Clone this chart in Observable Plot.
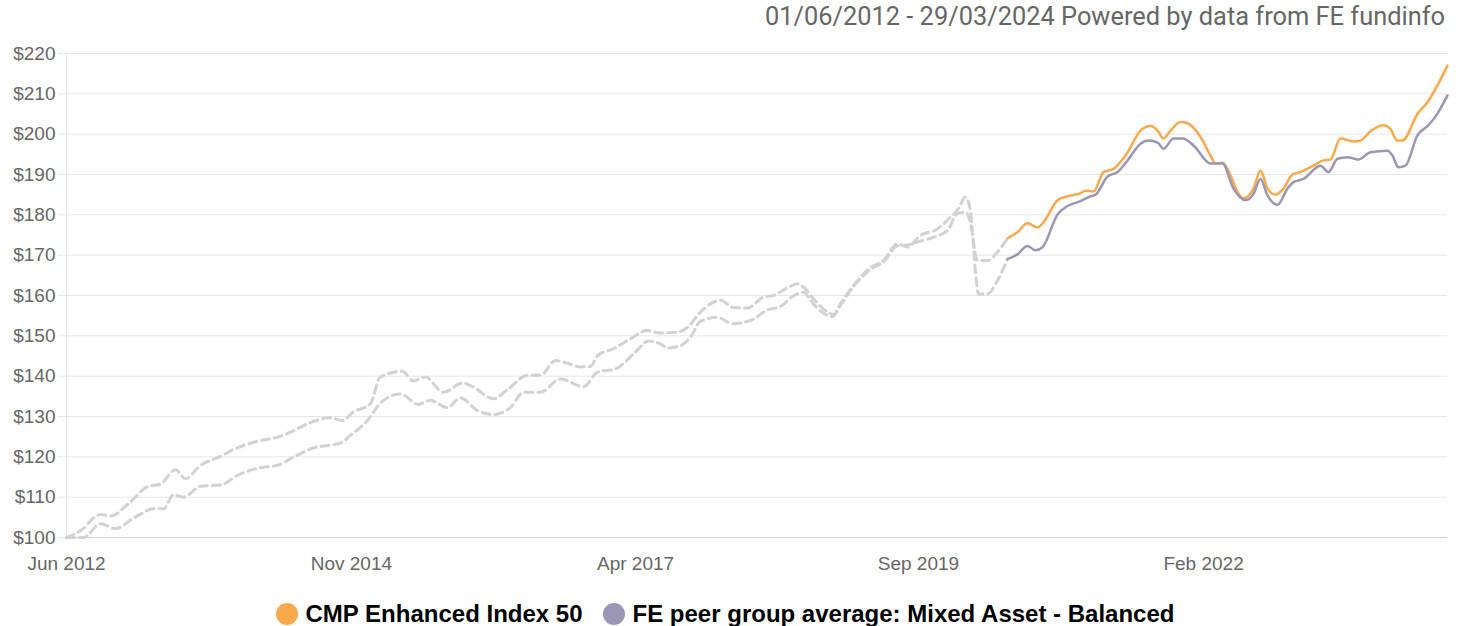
<!DOCTYPE html>
<html><head><meta charset="utf-8">
<script src="https://cdn.jsdelivr.net/npm/d3@7"></script>
<script src="https://cdn.jsdelivr.net/npm/@observablehq/plot@0.6"></script>
<style>
body{margin:0;background:#fff;width:1462px;height:626px;overflow:hidden;font-family:"Liberation Sans",Arial,sans-serif;position:relative}
#title{height:40px;box-sizing:border-box;padding-top:4px;text-align:right;padding-right:17px;font-family:Roboto,sans-serif;font-size:25.4px;line-height:25px;color:#666;white-space:nowrap}
#chart svg{display:block}
#legend{position:absolute;left:0;top:600px;width:1450px;height:28px;display:flex;justify-content:center;align-items:center;font-family:"Liberation Sans",Arial,sans-serif;font-weight:bold;font-size:24px;line-height:1;color:#000;white-space:nowrap}
#legend .item{display:flex;align-items:center;margin:0 10px}
#legend .dot{width:22px;height:22px;border-radius:50%;margin-right:8px}
</style></head><body>
<div id="title"></div>
<div id="chart"></div>
<div id="legend"></div>
<script>
// Series names and colours
const seriesNames = ["CMP Enhanced Index 50", "FE peer group average: Mixed Asset - Balanced"];
const seriesColors = ["#f9a94c", "#9b96b4"];
const periodLabel = "01/06/2012 - 29/03/2024 Powered by data from FE fundinfo";

// Dates as decimal years, values as growth of $100
const fundYears = [2012.416,2012.535,2012.706,2012.792,2012.946,2013.109,2013.220,2013.349,2013.434,2013.563,2013.734,2013.845,2014.017,2014.222,2014.334,2014.479,2014.676,2014.779,2014.873,2015.019,2015.104,2015.293,2015.387,2015.490,2015.644,2015.807,2015.901,2016.072,2016.192,2016.363,2016.475,2016.603,2016.706,2016.817,2016.903,2016.963,2017.100,2017.246,2017.391,2017.503,2017.648,2017.734,2017.845,2018.017,2018.128,2018.248,2018.385,2018.471,2018.591,2018.676,2018.727,2018.813,2018.933,2018.984,2019.044,2019.156,2019.301,2019.413,2019.533,2019.618,2019.730,2019.875,2019.986,2020.055,2020.115,2020.158,2020.183,2020.218,2020.303,2020.389,2020.475,2020.560,2020.646,2020.732,2020.783,2020.903,2020.989,2021.100,2021.143,2021.211,2021.297,2021.383,2021.503,2021.614,2021.700,2021.760,2021.811,2021.871,2021.957,2022.017,2022.128,2022.214,2022.257,2022.316,2022.385,2022.445,2022.496,2022.582,2022.642,2022.702,2022.770,2022.839,2022.916,2022.984,2023.096,2023.181,2023.241,2023.327,2023.438,2023.498,2023.584,2023.695,2023.755,2023.815,2023.858,2023.987,2024.072,2024.158,2024.244];
const fundValues = [100,101.7,105.7,105.3,108.4,112.6,113.3,116.8,114.6,117.9,120.1,121.8,123.6,124.9,126.1,128.2,129.7,129.0,131.1,133.2,139.8,141.2,138.8,139.8,136.0,138.3,137.3,134.4,136.6,140.2,140.2,143.9,143.2,142.3,142.4,145.1,146.8,149.3,151.3,150.7,150.9,152.1,155.9,158.8,157.0,156.9,159.6,160.0,161.9,162.9,162.1,159.2,155.9,155.3,157.9,162.5,166.9,168.7,172.8,172.0,174.9,176.5,179.4,181.5,184.4,181.1,173.6,168.7,168.7,170.7,174.2,175.7,177.9,176.9,178.2,183.6,184.6,185.4,186.0,185.8,190.6,191.4,195.5,200.9,202.0,200.9,198.9,200.9,203.0,202.7,199.3,194.7,192.7,192.9,189.8,185.6,184.1,186.5,191.0,186.5,185.0,186.5,190.0,190.6,192.2,193.5,193.7,198.9,198.2,198.4,200.7,202.2,201.3,198.4,198.4,205.0,207.9,212.1,217.0];

const peerYears = [2012.416,2012.561,2012.706,2012.835,2012.989,2013.177,2013.246,2013.331,2013.417,2013.563,2013.734,2013.880,2014.077,2014.222,2014.359,2014.531,2014.650,2014.762,2014.847,2014.993,2015.104,2015.276,2015.430,2015.533,2015.678,2015.790,2015.935,2016.072,2016.218,2016.329,2016.475,2016.646,2016.843,2016.963,2017.117,2017.289,2017.400,2017.503,2017.563,2017.674,2017.760,2017.845,2017.991,2018.119,2018.274,2018.419,2018.531,2018.659,2018.727,2018.813,2018.899,2018.976,2019.044,2019.156,2019.301,2019.413,2019.533,2019.618,2019.730,2019.815,2019.961,2020.047,2020.115,2020.175,2020.201,2020.227,2020.303,2020.389,2020.475,2020.560,2020.646,2020.715,2020.775,2020.903,2020.989,2021.100,2021.186,2021.229,2021.331,2021.417,2021.503,2021.614,2021.683,2021.760,2021.811,2021.897,2021.974,2022.068,2022.214,2022.316,2022.411,2022.514,2022.582,2022.642,2022.702,2022.788,2022.873,2022.925,2023.010,2023.156,2023.224,2023.302,2023.387,2023.481,2023.584,2023.730,2023.773,2023.824,2023.884,2023.987,2024.081,2024.158,2024.244];
const peerValues = [100,100,103.4,102.2,104.8,107.2,107.1,110.6,110.0,112.7,113.0,115.4,117.3,117.9,119.9,122.2,122.8,123.4,125.3,129.0,133.3,135.6,133.0,134.0,132.2,134.6,131.5,130.5,132.2,136.0,136.0,139.3,137.4,141.0,141.8,146.0,148.7,148.0,147.0,147.6,149.7,153.6,154.6,153.0,153.8,156.4,157.3,160.2,160.8,157.9,155.6,154.8,157.5,162.2,166.5,168.3,172.3,172.5,173.5,174.2,176.1,180.3,180.7,175.3,166.0,160.4,160.4,163.7,169.0,170.2,172.3,171.2,172.0,180.1,182.2,183.4,184.6,185.0,189.5,190.6,193.5,197.6,198.4,197.9,196.4,198.9,198.9,197.2,192.7,192.7,186.5,183.6,185.2,188.9,184.8,182.5,186.5,188.1,188.9,192.2,190.6,193.9,194.3,193.7,195.5,195.9,194.7,191.8,192.2,199.7,202.2,205.1,209.6];

// Start of the actual (solid) track record; before it the lines are dashed grey
const launchYear = 2020.475;
// Tick labels
const yTicks = [100,110,120,130,140,150,160,170,180,190,200,210,220];
const xTickYears = [2012.416, 2014.856, 2017.289, 2019.713, 2022.154];

const toDate = y => { const yr = Math.floor(y); const a = Date.UTC(yr,0,1), b = Date.UTC(yr+1,0,1); return new Date(a + (y - yr) * (b - a)); };

const rows = [];
fundYears.forEach((y,i) => rows.push({year: y, date: toDate(y), value: fundValues[i], series: seriesNames[0]}));
peerYears.forEach((y,i) => rows.push({year: y, date: toDate(y), value: peerValues[i], series: seriesNames[1]}));
const simRows = rows.filter(d => d.year <= launchYear + 1e-9);
const realRows = rows.filter(d => d.year >= launchYear - 1e-9);

document.getElementById("title").textContent = periodLabel;

const chart = Plot.plot({
  width: 1462,
  height: 545,
  marginTop: 13,
  marginBottom: 48,
  marginLeft: 66,
  marginRight: 15,
  style: {fontFamily: "'Liberation Sans', Arial, sans-serif", fontSize: "19px", background: "#fff"},
  x: {type: "utc", domain: [toDate(fundYears[0]), toDate(fundYears[fundYears.length-1])]},
  y: {domain: [100, 220]},
  color: {domain: seriesNames, range: seriesColors},
  marks: [
    Plot.ruleY(yTicks.slice(1), {stroke: "#e6e6e6", strokeWidth: 1}),
    Plot.ruleX([toDate(fundYears[0])], {stroke: "#e6e6e6", strokeWidth: 1}),
    Plot.ruleY([100], {stroke: "#ccd0d6", strokeWidth: 1}),
    Plot.axisY(yTicks, {tickSize: 8, stroke: "#e6e6e6", fill: "#666", tickPadding: 3, tickFormat: d => "$" + d, label: null, fontSize: 19}),
    Plot.axisX(xTickYears.map(toDate), {tickSize: 0, tickPadding: 19, fill: "#666", tickFormat: d3.utcFormat("%b %Y"), label: null, fontSize: 19}),
    Plot.line(simRows, {x: "date", y: "value", z: "series", stroke: "#d2d2d2", strokeWidth: 3, strokeDasharray: "8,5", curve: "monotone-x"}),
    Plot.line(realRows, {x: "date", y: "value", z: "series", stroke: "series", strokeWidth: 2.5, curve: "monotone-x"})
  ]
});
document.getElementById("chart").appendChild(chart);

const legend = document.getElementById("legend");
seriesNames.forEach((name, i) => {
  const item = document.createElement("div");
  item.className = "item";
  const dot = document.createElement("span");
  dot.className = "dot";
  dot.style.background = seriesColors[i];
  const label = document.createElement("span");
  label.textContent = name;
  item.appendChild(dot);
  item.appendChild(label);
  legend.appendChild(item);
});
</script>
</body></html>
